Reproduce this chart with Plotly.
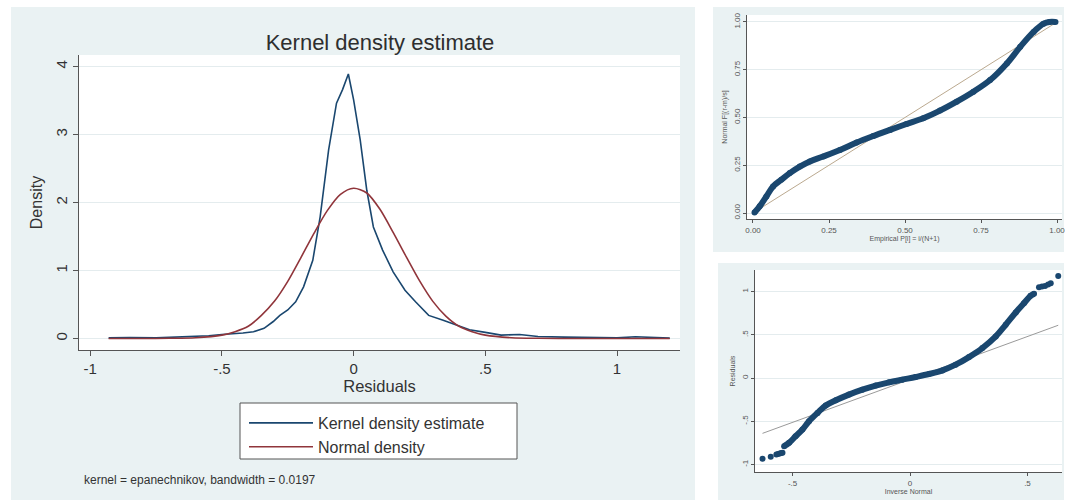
import plotly.graph_objects as go

W, H = 1069, 502

# ---------------- data ----------------
kde_x = [-0.93, -0.85, -0.75, -0.65, -0.55, -0.5, -0.45, -0.42, -0.38, -0.34, -0.305,
         -0.28, -0.25, -0.22, -0.19, -0.155, -0.127, -0.095, -0.065, -0.042, -0.02, 0.0,
         0.025, 0.05, 0.075, 0.11, 0.15, 0.195, 0.235, 0.285, 0.34, 0.39, 0.44, 0.5,
         0.56, 0.63, 0.7, 0.8, 0.9, 1.0, 1.07, 1.2]
kde_y = [0.01, 0.015, 0.01, 0.02, 0.04, 0.06, 0.07, 0.08, 0.1, 0.15, 0.25,
         0.34, 0.42, 0.54, 0.76, 1.15, 1.79, 2.77, 3.46, 3.66, 3.89, 3.51,
         2.92, 2.18, 1.64, 1.3, 0.98, 0.71, 0.54, 0.34, 0.27, 0.2, 0.13, 0.09,
         0.05, 0.06, 0.03, 0.02, 0.015, 0.01, 0.025, 0.005]

norm_x = [-0.93, -0.8, -0.7, -0.6, -0.5, -0.45, -0.4, -0.35, -0.3, -0.25, -0.2, -0.15,
          -0.1, -0.05, 0.0, 0.05, 0.1, 0.15, 0.2, 0.25, 0.3, 0.35, 0.4, 0.45, 0.5,
          0.6, 0.7, 0.85, 1.0, 1.2]
norm_y = [0.0, 0.0, 0.003, 0.012, 0.05, 0.1, 0.18, 0.34, 0.55, 0.84, 1.19, 1.55,
          1.88, 2.12, 2.21, 2.14, 1.9, 1.56, 1.2, 0.85, 0.55, 0.33, 0.18, 0.1, 0.05,
          0.012, 0.003, 0.0, 0.0, 0.0]

pp_x = [0.005, 0.022, 0.044, 0.066, 0.093, 0.121, 0.154, 0.187, 0.231, 0.286, 0.341,
        0.396, 0.451, 0.505, 0.56, 0.615, 0.67, 0.725, 0.78, 0.835, 0.879, 0.923,
        0.956, 0.975, 0.995]
pp_y = [0.003, 0.035, 0.087, 0.139, 0.174, 0.209, 0.243, 0.27, 0.296, 0.33, 0.369,
        0.403, 0.435, 0.466, 0.496, 0.536, 0.583, 0.635, 0.696, 0.783, 0.87, 0.948,
        0.991, 1.0, 1.0]
pp_ref = [0.0, 1.0]

qq_body_x = [-0.536, -0.515, -0.487, -0.458, -0.43, -0.394, -0.359, -0.316, -0.26,
             -0.203, -0.146, -0.089, -0.033, 0.024, 0.081, 0.138, 0.194, 0.251, 0.308,
             0.365, 0.407, 0.45, 0.485, 0.513, 0.528]
qq_body_y = [-0.788, -0.75, -0.673, -0.596, -0.5, -0.404, -0.319, -0.258, -0.192,
             -0.135, -0.088, -0.05, -0.019, 0.012, 0.046, 0.088, 0.154, 0.242, 0.346,
             0.481, 0.615, 0.758, 0.865, 0.95, 0.973]
qq_tail_x = [-0.628, -0.593, -0.569, -0.562, -0.555, -0.548, -0.543,
             0.549, 0.562, 0.575, 0.588, 0.599, 0.631]
qq_tail_y = [-0.935, -0.912, -0.885, -0.88, -0.873, -0.868, -0.865,
             1.05, 1.058, 1.065, 1.08, 1.096, 1.18]
qq_ref_x = [-0.628, 0.631]
qq_ref_y = [-0.64, 0.61]

# ---------------- style ----------------
NAVY = "#1A476F"
MAROON = "#90353B"
PANEL = "#EAF2F3"
GRID = "#E4ECEE"
AXIS = "#555555"
TXT = "#333333"
FONT = "Liberation Sans, Arial, sans-serif"

def px_x(p):
    return p / W

def px_y(p):
    return 1 - p / H

fig = go.Figure()

fig.add_trace(go.Scatter(x=kde_x, y=kde_y, mode="lines", name="Kernel density estimate",
                         line=dict(color=NAVY, width=1.6), xaxis="x", yaxis="y"))
fig.add_trace(go.Scatter(x=norm_x, y=norm_y, mode="lines", name="Normal density",
                         line=dict(color=MAROON, width=1.6, shape="spline", smoothing=0.8),
                         xaxis="x", yaxis="y"))

fig.add_trace(go.Scatter(x=pp_ref, y=pp_ref, mode="lines", showlegend=False,
                         line=dict(color="#BBA98F", width=1), xaxis="x2", yaxis="y2"))
fig.add_trace(go.Scatter(x=pp_x, y=pp_y, mode="lines+markers", showlegend=False,
                         line=dict(color=NAVY, width=6, shape="spline"),
                         marker=dict(color=NAVY, size=6), xaxis="x2", yaxis="y2"))

fig.add_trace(go.Scatter(x=qq_ref_x, y=qq_ref_y, mode="lines", showlegend=False,
                         line=dict(color="#9A9A9A", width=1), xaxis="x3", yaxis="y3"))
fig.add_trace(go.Scatter(x=qq_body_x, y=qq_body_y, mode="lines+markers", showlegend=False,
                         line=dict(color=NAVY, width=6, shape="spline"),
                         marker=dict(color=NAVY, size=6), xaxis="x3", yaxis="y3"))
fig.add_trace(go.Scatter(x=qq_tail_x, y=qq_tail_y, mode="markers", showlegend=False,
                         marker=dict(color=NAVY, size=6), xaxis="x3", yaxis="y3"))

common = dict(showline=True, linecolor=AXIS, linewidth=1, ticks="outside",
              tickcolor=AXIS, zeroline=False, automargin=False)

shapes = [
    dict(type="rect", xref="paper", yref="paper", x0=px_x(11), x1=px_x(695),
         y0=px_y(500), y1=px_y(7), fillcolor=PANEL, line=dict(width=0), layer="below"),
    dict(type="rect", xref="paper", yref="paper", x0=px_x(713), x1=px_x(1064),
         y0=px_y(252), y1=px_y(7), fillcolor=PANEL, line=dict(width=0), layer="below"),
    dict(type="rect", xref="paper", yref="paper", x0=px_x(718), x1=px_x(1064),
         y0=px_y(500), y1=px_y(263), fillcolor=PANEL, line=dict(width=0), layer="below"),
]
# white plot regions
for (a, b, c, d) in [(79, 680, 55, 350), (747, 1062, 15, 219), (755, 1062, 270, 472)]:
    shapes.append(dict(type="rect", xref="paper", yref="paper", x0=px_x(a), x1=px_x(b),
                       y0=px_y(d), y1=px_y(c), fillcolor="white", line=dict(width=0),
                       layer="below"))
# legend frame (Stata-style box)
shapes.append(dict(type="rect", xref="paper", yref="paper", x0=px_x(240), x1=px_x(517),
                   y0=px_y(459), y1=px_y(403), fillcolor="white",
                   line=dict(color=AXIS, width=1), layer="below"))

fig.update_layout(
    width=W, height=H, template="none",
    margin=dict(l=0, r=0, t=0, b=0),
    paper_bgcolor="white", plot_bgcolor="rgba(0,0,0,0)",
    font=dict(family=FONT, color=TXT),
    shapes=shapes,
    title=dict(text="Kernel density estimate", x=px_x(380), y=px_y(42),
               xanchor="center", yanchor="middle", font=dict(size=22, color="#2E2E2E")),
    xaxis=dict(domain=[px_x(79), px_x(680)], range=[-1.0425, 1.239],
               tickvals=[-1, -0.5, 0, 0.5, 1], ticktext=["-1", "-.5", "0", ".5", "1"],
               ticklen=5, showgrid=False, tickfont=dict(size=15, color=TXT),
               title=dict(text="Residuals", font=dict(size=16.5, color=TXT), standoff=0),
               anchor="y", **common),
    yaxis=dict(domain=[px_y(350), px_y(55)], range=[-0.169, 4.169],
               tickvals=[0, 1, 2, 3, 4], ticktext=["0", "1", "2", "3", "4"], tickangle=-90,
               ticklen=5, showgrid=True, gridcolor=GRID, gridwidth=1,
               tickfont=dict(size=15, color=TXT),
               title=dict(text="Density", font=dict(size=16, color=TXT), standoff=6),
               anchor="x", **common),
    xaxis2=dict(domain=[px_x(747), px_x(1062)], range=[-0.0197, 1.0164],
                tickvals=[0, 0.25, 0.5, 0.75, 1],
                ticktext=["0.00", "0.25", "0.50", "0.75", "1.00"],
                ticklen=3, showgrid=False, tickfont=dict(size=8, color="#555"),
                title=dict(text="Empirical P[i] = i/(N+1)", font=dict(size=7, color="#555"),
                           standoff=0),
                anchor="y2", **common),
    yaxis2=dict(domain=[px_y(219), px_y(15)], range=[-0.0314, 1.0366],
                tickvals=[0, 0.25, 0.5, 0.75, 1],
                ticktext=["0.00", "0.25", "0.50", "0.75", "1.00"], tickangle=-90,
                ticklen=3, showgrid=True, gridcolor=GRID,
                tickfont=dict(size=8, color="#555"),
                title=dict(text="Normal F[(r-m)/s]", font=dict(size=7, color="#555"),
                           standoff=4),
                anchor="x2", **common),
    xaxis3=dict(domain=[px_x(755), px_x(1062)], range=[-0.66, 0.647],
                tickvals=[-0.5, 0, 0.5], ticktext=["-.5", "0", ".5"],
                ticklen=3, showgrid=False, tickfont=dict(size=8, color="#555"),
                title=dict(text="Inverse Normal", font=dict(size=7, color="#555"), standoff=0),
                anchor="y3", **common),
    yaxis3=dict(domain=[px_y(472), px_y(270)], range=[-1.087, 1.249],
                tickvals=[-1, -0.5, 0, 0.5, 1], ticktext=["-1", "-.5", "0", ".5", "1"],
                tickangle=-90, ticklen=3, showgrid=True, gridcolor=GRID,
                tickfont=dict(size=8, color="#555"),
                title=dict(text="Residuals", font=dict(size=7, color="#555"), standoff=4),
                anchor="x3", **common),
    showlegend=True,
    legend=dict(x=px_x(244), y=px_y(406), xanchor="left", yanchor="top",
                bgcolor="rgba(0,0,0,0)", borderwidth=0,
                font=dict(size=16, color=TXT), itemwidth=64, tracegroupgap=0),
    annotations=[
        dict(text="kernel = epanechnikov, bandwidth = 0.0197", xref="paper", yref="paper",
             x=px_x(82), y=px_y(480), xanchor="left", yanchor="middle", showarrow=False,
             font=dict(size=12, color=TXT)),
    ],
)

fig.write_html("out.html", config={"displayModeBar": False},
               post_script="document.body.style.margin='0';document.body.style.overflow='hidden';")
